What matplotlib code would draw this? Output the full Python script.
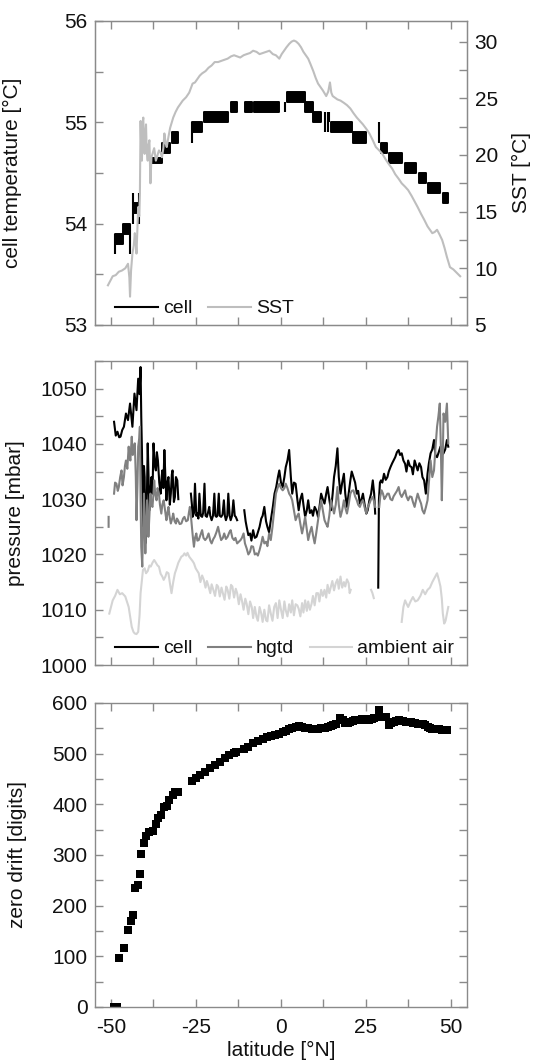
import numpy as np
import matplotlib
matplotlib.use('Agg')
import matplotlib.pyplot as plt
from matplotlib.lines import Line2D
from matplotlib.ticker import MultipleLocator

plt.rcParams['font.family'] = ['Liberation Sans', 'DejaVu Sans']
plt.rcParams['axes.unicode_minus'] = False

# ---- top panel: cell temperature (quantised 0.1 degC, flickers between two levels) ----
cell_t_lat0 = [-48.8, -46.6, -43.5, -38.3, -35.0, -32.1, -26.2, -22.5, -14.8, -10.5, -8.0,
               1.9, 7.1, 9.5, 14.7, 21.3, 29.4, 31.7, 36.5, 40.7, 43.1, 47.6]
cell_t_lat1 = [-46.6, -44.4, -41.7, -35.0, -32.6, -30.3, -23.2, -15.7, -12.9, -8.6, -0.5,
               7.1, 9.5, 11.8, 20.8, 25.1, 31.3, 35.5, 39.8, 42.6, 46.9, 49.2]
cell_t_lo = [53.8, 53.9, 54.1, 54.6, 54.7, 54.8, 54.9, 55.0, 55.1, 55.1, 55.1,
             55.2, 55.1, 55.0, 54.9, 54.8, 54.7, 54.6, 54.5, 54.4, 54.3, 54.2]
cell_t_hi = [53.9, 54.0, 54.2, 54.65, 54.8, 54.9, 55.0, 55.1, 55.2, 55.2, 55.2,
             55.3, 55.2, 55.1, 55.0, 54.9, 54.8, 54.7, 54.6, 54.5, 54.4, 54.3]
# single excursions of the cell temperature
spk_lat = [-48.8, -44.4, -43.5, -41.7, -26.2, 1.2, 12.8, 13.7, 14.2, 28.7]
spk_lo = [53.7, 53.7, 54.0, 54.0, 54.8, 55.1, 54.9, 54.9, 55.0, 54.8]
spk_hi = [53.9, 54.0, 54.3, 54.3, 55.0, 55.2, 55.1, 55.1, 55.1, 55.0]

sst_lat = [-50.9, -50.2, -49.5, -48.6, -47.7, -46.8, -45.8, -45.0, -44.6, -44.4,
           -44.1, -43.7, -43.3, -43.0, -42.7, -42.5, -42.2, -42.0, -41.7, -41.5,
           -41.3, -41.1, -40.9, -40.7, -40.5, -40.3, -40.1, -39.9, -39.7, -39.5,
           -39.2, -39.0, -38.7, -38.4, -38.1, -37.8, -37.3, -36.8, -36.3, -35.9,
           -35.4, -35.0, -34.6, -34.3, -33.9, -33.6, -33.1, -32.6, -32.1, -31.7,
           -31.0, -30.3, -29.6, -28.9, -27.9, -27.0, -26.0, -25.3, -24.6, -23.9,
           -23.2, -22.2, -21.3, -20.4, -19.5, -18.5, -17.6, -16.6, -15.7, -14.7,
           -13.8, -12.9, -12.0, -11.0, -10.1, -9.1, -8.2, -7.2, -6.3, -5.3,
           -4.4, -3.4, -2.4, -1.5, -0.5, 0.2, 0.9, 1.6, 2.4, 3.1,
           3.8, 4.5, 5.2, 5.9, 6.6, 7.3, 8.0, 8.7, 9.5, 10.2,
           10.9, 11.6, 12.3, 13.3, 13.9, 14.4, 14.8, 15.2, 16.6, 17.5,
           18.5, 19.4, 20.4, 21.3, 22.3, 23.2, 24.1, 25.1, 26.0, 27.0,
           27.9, 28.9, 29.8, 30.8, 31.7, 32.7, 33.6, 34.6, 35.5, 36.5,
           37.4, 38.4, 39.3, 40.2, 41.2, 42.1, 43.1, 43.8, 44.5, 45.2,
           45.9, 46.6, 47.4, 48.1, 48.8, 49.7, 50.7, 51.7, 52.7]
sst_val = [8.5, 8.9, 9.3, 9.4, 9.7, 9.8, 10.0, 10.4, 9.2, 7.5,
           9.8, 11.3, 12.0, 13.1, 12.2, 11.3, 13.8, 15.4, 14.6, 16.6,
           23.0, 20.5, 19.5, 22.8, 23.3, 20.6, 20.1, 22.0, 22.7, 20.4,
           19.5, 20.8, 21.3, 17.5, 19.8, 20.1, 20.6, 19.5, 20.0, 20.4,
           20.2, 19.8, 20.6, 21.9, 21.0, 20.7, 21.6, 22.4, 22.9, 23.3,
           23.8, 24.2, 24.5, 24.8, 25.1, 25.5, 26.3, 26.4, 26.7, 27.0,
           27.2, 27.4, 27.7, 27.9, 28.2, 28.2, 28.3, 28.4, 28.5, 28.7,
           28.8, 28.7, 28.6, 28.8, 28.9, 29.0, 29.2, 29.1, 28.9, 29.0,
           29.1, 29.2, 28.9, 28.8, 28.5, 28.9, 29.2, 29.5, 29.8, 30.0,
           30.1, 30.0, 29.8, 29.5, 29.1, 28.8, 28.5, 28.0, 27.4, 26.8,
           26.3, 26.0, 25.7, 25.2, 25.6, 26.4, 25.5, 25.2, 24.9, 24.8,
           24.6, 24.4, 24.1, 23.7, 23.3, 23.0, 22.7, 22.3, 21.9, 21.3,
           20.7, 20.4, 20.1, 19.6, 19.2, 18.8, 18.3, 17.9, 17.5, 17.2,
           16.9, 16.4, 15.9, 15.4, 14.8, 14.3, 13.7, 13.4, 13.1, 13.2,
           13.4, 13.0, 12.5, 11.8, 11.0, 10.1, 9.9, 9.6, 9.3]

# ---- middle panel: pressures ----
pc_lat = [-49.1, -48.6, -48.1, -47.6, -47.2, -46.7, -46.2, -45.6, -45.0, -44.4,
          -44.0, -43.7, -43.1, -42.5, -42.0, -41.6, -41.3, -41.1, -40.9, -40.7,
          -40.5, -40.3, -40.1, -39.9, -39.7, -39.4, -39.2, -38.9, -38.7, -38.4,
          -38.1, -37.8, -37.5, -37.1, -36.8, -36.5, -36.2, -35.8, -35.4, -35.1,
          -34.9, -34.6, -34.3, -34.0, -33.7, -33.4, -33.1, -32.7, -32.4, -32.1,
          -31.9, -31.5, -31.2, -30.9, -30.5, -30.2, -28.0, -26.5, -26.2, -26.0,
          -25.6, -25.3, -24.9, -24.6, -24.3, -24.0, -23.6, -23.2, -22.9, -22.5,
          -22.2, -21.8, -21.5, -21.1, -20.8, -20.4, -20.0, -19.6, -19.3, -19.0,
          -18.7, -18.3, -18.0, -17.6, -17.2, -16.8, -16.5, -16.2, -15.8, -15.5,
          -15.1, -14.8, -14.4, -14.0, -13.6, -13.3, -12.9, -11.9, -10.8, -10.4,
          -10.1, -9.6, -9.1, -8.7, -8.2, -7.7, -7.2, -6.8, -6.3, -5.8,
          -5.4, -4.9, -4.4, -4.0, -3.5, -3.0, -2.4, -1.9, -1.4, -0.9,
          -0.5, 0.0, 0.5, 1.0, 1.4, 1.9, 2.4, 2.9, 3.3, 3.8,
          4.3, 4.8, 5.2, 5.7, 6.2, 6.6, 7.1, 7.6, 8.0, 8.5,
          9.0, 9.4, 9.9, 10.4, 10.9, 11.3, 11.8, 12.3, 12.8, 13.3,
          13.7, 14.2, 14.7, 15.2, 15.6, 16.1, 16.6, 17.0, 17.5, 18.0,
          18.5, 18.9, 19.4, 19.9, 20.4, 20.8, 21.3, 21.8, 22.3, 22.7,
          23.2, 23.7, 24.1, 24.6, 25.1, 25.5, 26.0, 26.5, 27.0, 27.4,
          27.7, 28.1, 28.6, 28.8, 29.1, 29.4, 29.8, 30.3, 30.8, 31.3,
          31.7, 32.2, 32.7, 33.1, 33.6, 34.1, 34.6, 35.0, 35.5, 36.0,
          36.5, 36.9, 37.4, 37.9, 38.4, 38.8, 39.3, 39.8, 40.2, 40.7,
          41.2, 41.6, 42.1, 42.6, 43.1, 43.5, 44.0, 44.5, 45.0, 45.4,
          45.9, 46.4, 46.9, 47.3, 47.8, 48.3, 48.8, 49.2]
pc_val = [1044.0, 1041.5, 1042.2, 1041.2, 1041.3, 1042.5, 1043.1, 1045.5, 1044.3, 1047.3,
          1045.0, 1043.1, 1049.1, 1046.1, 1051.8, 1049.0, 1053.9, 1045.0, 1038.9, 1030.0,
          1025.0, 1036.0, 1034.0, 1022.0, 1025.6, 1032.0, 1040.1, 1033.0, 1028.0, 1031.0,
          1034.0, 1031.0, 1040.1, 1036.0, 1035.2, 1038.5, 1037.0, 1033.0, 1031.0, 1034.0,
          1035.2, 1032.0, 1038.9, 1034.0, 1029.8, 1033.0, 1034.0, 1029.0, 1031.0, 1034.5,
          1035.2, 1029.5, 1030.4, 1034.0, 1033.4, 1030.0, np.nan, 1031.0, 1029.0, 1026.8,
          1027.5, 1032.8, 1027.0, 1027.4, 1026.5, 1031.0, 1027.0, 1026.8, 1027.5, 1032.8,
          1027.0, 1026.8, 1027.5, 1028.6, 1027.0, 1026.2, 1027.0, 1031.0, 1027.0, 1026.8,
          1027.0, 1031.0, 1027.0, 1026.8, 1027.2, 1029.8, 1027.0, 1026.2, 1027.0, 1031.0,
          1027.0, 1026.2, 1027.0, 1029.8, 1027.0, 1026.8, 1026.2, np.nan, 1028.0, 1026.0,
          1025.0, 1023.5, 1023.8, 1022.5, 1024.4, 1023.0, 1023.2, 1024.0, 1025.0, 1026.5,
          1027.0, 1028.6, 1026.0, 1025.0, 1024.0, 1026.2, 1028.6, 1031.0, 1032.2, 1034.0,
          1035.2, 1033.0, 1032.2, 1034.0, 1035.8, 1037.0, 1038.9, 1034.0, 1031.0, 1033.0,
          1032.8, 1030.0, 1028.0, 1030.0, 1031.0, 1029.0, 1026.8, 1028.0, 1029.8, 1027.5,
          1028.0, 1027.0, 1028.6, 1028.0, 1026.8, 1028.5, 1031.0, 1030.0, 1029.2, 1031.0,
          1032.2, 1030.0, 1028.0, 1031.0, 1034.0, 1036.0, 1039.2, 1034.0, 1031.0, 1033.0,
          1034.6, 1031.0, 1028.6, 1031.0, 1033.4, 1035.0, 1034.0, 1033.0, 1031.0, 1031.5,
          1029.2, 1030.0, 1031.0, 1029.0, 1027.4, 1028.0, 1029.8, 1031.0, 1033.4, 1031.0,
          1027.4, np.nan, 1014.0, 1029.8, 1033.0, 1033.4, 1033.0, 1034.6, 1033.5, 1034.0,
          1035.0, 1035.8, 1036.5, 1037.0, 1037.6, 1038.5, 1038.9, 1038.0, 1038.3, 1037.0,
          1036.4, 1035.0, 1037.0, 1036.0, 1035.8, 1034.5, 1037.0, 1036.0, 1035.2, 1036.5,
          1035.8, 1034.0, 1033.4, 1031.0, 1034.6, 1036.5, 1038.3, 1039.0, 1040.7, 1038.0,
          1037.6, 1038.5, 1039.5, 1038.0, 1038.3, 1039.0, 1040.7, 1039.5]

ph_lat = [-50.7, -50.7, -50.0, -49.1, -48.8, -48.4, -48.0, -47.7, -47.3, -46.9,
          -46.6, -46.2, -45.9, -45.6, -45.2, -44.8, -44.6, -44.3, -43.9, -43.6,
          -43.4, -43.0, -42.7, -42.5, -42.2, -42.0, -41.7, -41.5, -41.3, -41.1,
          -40.9, -40.8, -40.6, -40.3, -40.1, -39.9, -39.7, -39.4, -39.2, -39.0,
          -38.7, -38.4, -38.1, -37.8, -37.5, -37.3, -37.0, -36.6, -36.3, -35.9,
          -35.6, -35.2, -34.9, -34.5, -34.1, -33.7, -33.4, -33.1, -32.8, -32.4,
          -32.0, -31.7, -31.3, -30.9, -30.6, -30.3, -29.8, -29.3, -28.8, -28.4,
          -27.9, -27.4, -27.1, -26.8, -26.5, -26.2, -25.9, -25.6, -25.3, -24.9,
          -24.6, -24.2, -23.7, -23.2, -22.8, -22.3, -21.8, -21.3, -20.8, -20.4,
          -19.9, -19.5, -19.0, -18.5, -18.0, -17.6, -17.1, -16.7, -16.2, -15.7,
          -15.2, -14.8, -14.3, -13.8, -13.4, -12.9, -12.4, -11.9, -11.5, -11.0,
          -10.6, -10.1, -9.6, -9.1, -8.7, -8.2, -7.7, -7.2, -6.8, -6.3,
          -5.8, -5.4, -4.9, -4.4, -4.0, -3.5, -3.0, -2.5, -2.0, -1.5,
          -1.0, -0.5, 0.0, 0.5, 1.0, 1.4, 1.9, 2.4, 2.9, 3.3,
          3.8, 4.3, 4.8, 5.2, 5.7, 6.2, 6.6, 7.1, 7.6, 8.0,
          8.5, 9.0, 9.4, 9.9, 10.4, 10.9, 11.3, 11.8, 12.3, 12.8,
          13.3, 13.7, 14.2, 14.7, 15.2, 15.6, 16.1, 16.6, 17.0, 17.5,
          18.0, 18.5, 18.9, 19.4, 19.9, 20.4, 20.8, 21.3, 21.8, 22.3,
          22.7, 23.2, 23.7, 24.1, 24.6, 25.1, 25.5, 26.0, 26.5, 27.0,
          27.4, 27.7, 28.2, 28.9, 29.2, 29.6, 30.0, 30.4, 30.8, 31.3,
          31.7, 32.2, 32.7, 33.1, 33.6, 34.1, 34.6, 35.0, 35.5, 36.0,
          36.5, 36.9, 37.4, 37.9, 38.4, 38.8, 39.3, 39.8, 40.2, 40.7,
          41.2, 41.6, 42.1, 42.6, 43.1, 43.5, 44.0, 44.5, 45.0, 45.4,
          45.9, 46.3, 46.7, 47.0, 47.3, 47.6, 47.8, 48.3, 48.8, 49.2]
ph_val = [1025.0, 1026.8, np.nan, 1031.0, 1033.0, 1032.8, 1031.5, 1032.2, 1034.0, 1035.2,
          1032.5, 1034.0, 1036.0, 1037.0, 1035.5, 1039.5, 1038.0, 1037.0, 1041.3, 1038.0,
          1038.9, 1040.1, 1034.0, 1026.2, 1033.0, 1039.5, 1041.0, 1043.1, 1030.0, 1021.4,
          1019.0, 1017.8, 1024.0, 1031.0, 1025.0, 1020.2, 1024.0, 1029.8, 1027.0, 1023.2,
          1027.0, 1031.0, 1029.0, 1028.6, 1031.0, 1033.4, 1031.0, 1029.8, 1032.0, 1031.0,
          1029.0, 1027.4, 1029.0, 1029.8, 1028.0, 1026.2, 1027.5, 1028.6, 1027.0, 1025.6,
          1026.5, 1027.4, 1026.0, 1025.6, 1026.5, 1026.2, 1025.5, 1025.6, 1026.5, 1026.8,
          1026.0, 1026.2, 1027.5, 1028.6, 1027.0, 1025.0, 1023.0, 1021.4, 1023.0, 1023.8,
          1022.5, 1022.6, 1023.5, 1024.4, 1023.0, 1022.6, 1023.0, 1023.8, 1022.5, 1022.0,
          1022.8, 1023.2, 1024.0, 1025.0, 1023.5, 1022.6, 1023.0, 1023.8, 1022.8, 1023.2,
          1024.0, 1024.4, 1023.0, 1022.6, 1023.0, 1022.0, 1022.3, 1022.6, 1023.0, 1023.8,
          1022.0, 1021.1, 1020.0, 1020.5, 1021.5, 1021.4, 1020.0, 1020.2, 1019.8, 1020.8,
          1022.0, 1023.2, 1022.0, 1022.3, 1021.5, 1023.8, 1022.6, 1025.0, 1028.0, 1031.0,
          1032.0, 1032.8, 1032.0, 1031.6, 1032.0, 1032.8, 1032.0, 1031.0, 1030.5, 1029.8,
          1028.0, 1026.2, 1027.0, 1027.4, 1025.5, 1023.8, 1025.0, 1026.8, 1024.5, 1022.6,
          1024.0, 1025.0, 1023.5, 1022.0, 1024.0, 1026.2, 1028.0, 1029.8, 1028.0, 1026.2,
          1025.5, 1025.0, 1027.0, 1029.8, 1028.5, 1027.4, 1029.0, 1032.2, 1029.0, 1026.8,
          1028.0, 1029.8, 1028.5, 1027.4, 1029.0, 1031.0, 1031.5, 1031.6, 1030.5, 1029.8,
          1029.0, 1028.6, 1029.5, 1029.8, 1028.5, 1027.4, 1028.5, 1029.2, 1030.0, 1030.4,
          1029.5, 1028.6, np.nan, 1028.6, 1030.5, 1031.6, 1031.0, 1030.0, 1030.4, 1031.0,
          1031.0, 1030.0, 1029.8, 1030.5, 1031.0, 1031.5, 1032.2, 1031.0, 1030.4, 1031.0,
          1031.6, 1030.5, 1029.8, 1030.5, 1030.4, 1029.5, 1028.6, 1030.0, 1031.0, 1030.0,
          1029.2, 1028.0, 1027.4, 1028.5, 1029.8, 1033.0, 1037.0, 1034.0, 1035.2, 1039.0,
          1043.1, 1045.0, 1047.3, 1040.0, 1029.8, 1038.0, 1045.5, 1044.0, 1047.3, 1040.1]

pa_lat = [-50.5, -50.0, -49.5, -48.8, -48.1, -47.4, -46.7, -45.8, -44.8, -44.3,
          -43.9, -43.4, -43.0, -42.5, -42.0, -41.6, -41.3, -40.9, -40.6, -40.1,
          -39.7, -39.2, -38.7, -38.3, -37.8, -37.3, -36.8, -36.3, -35.9, -35.4,
          -34.9, -34.5, -34.0, -33.6, -33.1, -32.6, -32.2, -31.7, -31.2, -30.7,
          -30.2, -29.8, -29.3, -28.8, -28.4, -27.9, -27.5, -27.0, -26.5, -26.0,
          -25.6, -25.1, -24.6, -24.2, -23.7, -23.2, -22.7, -22.2, -21.8, -21.3,
          -20.8, -20.4, -19.9, -19.4, -18.9, -18.5, -18.0, -17.5, -17.1, -16.6,
          -16.1, -15.7, -15.2, -14.7, -14.3, -13.8, -13.3, -12.9, -12.4, -11.9,
          -11.5, -11.0, -10.5, -10.1, -9.6, -9.1, -8.6, -8.2, -7.7, -7.2,
          -6.8, -6.3, -5.8, -5.4, -4.9, -4.4, -4.0, -3.5, -3.0, -2.5,
          -2.0, -1.5, -1.0, -0.5, 0.0, 0.5, 1.0, 1.4, 1.9, 2.4,
          2.9, 3.3, 3.8, 4.3, 4.8, 5.2, 5.7, 6.2, 6.6, 7.1,
          7.6, 8.0, 8.5, 9.0, 9.4, 9.9, 10.4, 10.9, 11.3, 11.8,
          12.3, 12.8, 13.3, 13.7, 14.2, 14.7, 15.1, 15.6, 16.1, 16.6,
          17.0, 17.5, 18.0, 18.5, 18.9, 19.4, 19.9, 20.2, 20.5, 23.0,
          26.5, 26.9, 27.3, 31.0, 35.5, 36.0, 36.5, 37.0, 37.4, 38.1,
          38.8, 39.5, 40.2, 41.0, 41.7, 42.4, 43.1, 43.8, 44.5, 45.2,
          45.9, 46.4, 46.9, 47.3, 47.6, 48.0, 48.4, 48.8, 49.2]
pa_val = [1009.3, 1010.5, 1011.7, 1012.5, 1013.6, 1012.8, 1013.0, 1012.4, 1010.5, 1008.5,
          1006.9, 1006.0, 1005.7, 1005.6, 1006.0, 1009.0, 1013.0, 1015.5, 1017.2, 1017.5,
          1016.6, 1017.0, 1018.0, 1017.8, 1018.5, 1019.0, 1018.5, 1018.0, 1017.8, 1016.5,
          1016.0, 1015.4, 1016.0, 1016.8, 1016.6, 1014.5, 1013.0, 1015.0, 1016.6, 1017.5,
          1018.5, 1019.0, 1019.6, 1019.8, 1020.2, 1019.8, 1020.3, 1019.6, 1019.2, 1018.8,
          1018.4, 1017.5, 1017.0, 1016.6, 1015.0, 1016.2, 1015.4, 1014.0, 1015.2, 1014.2,
          1013.0, 1014.6, 1013.6, 1012.5, 1014.5, 1014.2, 1012.4, 1014.0, 1013.0, 1011.8,
          1014.2, 1013.6, 1012.0, 1014.5, 1014.2, 1012.2, 1013.8, 1013.0, 1011.0, 1012.8,
          1011.7, 1010.0, 1012.0, 1011.1, 1009.2, 1011.5, 1010.5, 1008.5, 1010.5, 1008.7,
          1008.0, 1010.5, 1009.3, 1007.8, 1010.0, 1008.1, 1007.9, 1010.8, 1009.3, 1008.0,
          1010.5, 1011.2, 1008.5, 1011.7, 1010.0, 1008.5, 1011.5, 1009.9, 1008.8, 1011.0,
          1009.5, 1011.7, 1009.0, 1011.0, 1010.8, 1010.2, 1008.8, 1011.2, 1009.5, 1011.7,
          1009.8, 1011.5, 1010.0, 1011.1, 1012.5, 1010.8, 1013.0, 1013.0, 1011.5, 1013.6,
          1012.5, 1013.6, 1012.2, 1014.5, 1013.0, 1014.2, 1015.2, 1013.5, 1014.8, 1015.5,
          1013.8, 1016.0, 1014.0, 1015.0, 1014.2, 1015.5, 1014.8, 1013.0, 1013.6, np.nan,
          1013.6, 1013.0, 1012.1, np.nan, 1007.8, 1010.5, 1011.7, 1011.0, 1010.5, 1011.5,
          1012.3, 1011.5, 1011.7, 1012.5, 1013.6, 1012.8, 1013.6, 1014.0, 1015.0, 1015.8,
          1016.6, 1015.5, 1014.2, 1012.0, 1009.3, 1007.5, 1008.0, 1009.3, 1010.5]

# ---- bottom panel: zero drift ----
zd_lat = [-49.0, -48.3, -47.5, -46.2, -45.1, -44.2, -43.6, -43.0, -42.0, -41.5,
          -41.1, -40.3, -39.7, -38.7, -37.6, -36.8, -36.1, -35.2, -34.5, -33.6,
          -32.8, -31.9, -31.2, -30.3, -26.2, -25.1, -23.7, -22.3, -20.9, -19.5,
          -18.0, -16.6, -15.2, -13.8, -13.1, -11.0, -9.6, -8.2, -6.8, -5.4,
          -4.0, -3.0, -1.8, -0.5, 0.5, 1.4, 2.4, 3.3, 4.3, 5.2,
          6.2, 7.1, 8.0, 9.0, 10.0, 10.9, 11.8, 12.8, 13.8, 14.7,
          15.4, 16.1, 17.5, 18.2, 18.9, 19.6, 20.4, 21.1, 21.8, 22.5,
          23.2, 23.9, 24.6, 25.3, 26.0, 26.8, 27.5, 28.9, 29.4, 30.1,
          30.8, 31.7, 32.4, 33.1, 33.8, 34.6, 35.3, 36.0, 36.7, 37.4,
          38.1, 38.8, 39.5, 40.2, 41.0, 41.7, 42.4, 43.1, 43.8, 44.5,
          45.2, 45.9, 46.6, 47.3, 48.0, 48.8]
zd_val = [0, 0, 97, 116, 152, 170, 182, 234, 241, 262,
          302, 323, 337, 346, 347, 362, 372, 379, 394, 397,
          409, 418, 425, 425, 445, 451, 458, 464, 471, 478,
          484, 491, 497, 501, 503, 509, 514, 520, 524, 528,
          532, 535, 537, 539, 542, 545, 548, 551, 552, 554,
          552, 551, 550, 549, 549, 549, 550, 551, 553, 554,
          556, 558, 571, 566, 561, 561, 562, 564, 566, 566,
          567, 568, 568, 567, 567, 569, 571, 586, 572, 572,
          572, 556, 560, 563, 565, 566, 565, 564, 563, 562,
          562, 561, 560, 559, 559, 558, 556, 553, 551, 549,
          549, 549, 548, 547, 547, 546]

frame_c = '#8a8a8a'
text_c = '#111111'
sst_c = '#bebebe'
hgtd_c = '#808080'
amb_c = '#d4d4d4'
lw = 1.5
fs_tick = 15
fs_lab = 15


def style(ax, right=True):
    for s in ax.spines.values():
        s.set_color(frame_c)
        s.set_linewidth(1.0)
    ax.set_xlim(-54.7, 54.7)
    ax.xaxis.set_major_locator(MultipleLocator(25))
    ax.xaxis.set_minor_locator(MultipleLocator(12.5))
    ax.tick_params(which='both', direction='in', top=True, right=right,
                   color=frame_c, length=6, width=1.0,
                   labelsize=fs_tick, labelcolor=text_c, pad=5.5)
    ax.tick_params(axis='x', which='both', pad=8)


fig = plt.figure(figsize=(5.47, 10.62), dpi=100)
ax1 = fig.add_axes([0.1737, 0.694, 0.68, 0.2863])
ax2 = fig.add_axes([0.1737, 0.3738, 0.68, 0.2863])
ax3 = fig.add_axes([0.1737, 0.0518, 0.68, 0.2863])

# top
style(ax1, right=False)
for x0, x1, lo, hi in zip(cell_t_lat0, cell_t_lat1, cell_t_lo, cell_t_hi):
    ax1.fill_between([x0, x1], lo, hi, facecolor='k', edgecolor='k', linewidth=1.4)
ax1.vlines(spk_lat, spk_lo, spk_hi, color='k', lw=lw)
ax1.set_ylim(53, 56)
ax1.yaxis.set_major_locator(MultipleLocator(1))
ax1.yaxis.set_minor_locator(MultipleLocator(0.5))
ax1.tick_params(labelbottom=False)
ax1.set_ylabel('cell temperature [°C]', fontsize=fs_lab, color=text_c)
ax1.yaxis.set_label_coords(-0.196, 0.5)

ax1t = ax1.twinx()
ax1t.plot(sst_lat, sst_val, color=sst_c, lw=lw)
ax1t.set_ylim(5, 31.83)
for s in ax1t.spines.values():
    s.set_color(frame_c)
ax1t.yaxis.set_major_locator(MultipleLocator(5))
ax1t.yaxis.set_minor_locator(MultipleLocator(2.5))
ax1t.tick_params(which='both', direction='in', color=frame_c, length=6, width=1.0,
                 labelsize=fs_tick, labelcolor=text_c, pad=5.5)
ax1t.set_ylabel('SST [°C]', fontsize=fs_lab, color=text_c)
ax1t.yaxis.set_label_coords(1.121, 0.5)
h1 = [Line2D([], [], color='k', lw=lw), Line2D([], [], color=sst_c, lw=lw)]
ax1t.legend(h1, ['cell', 'SST'], ncol=2, loc='lower left', bbox_to_anchor=(0.054, 0.025),
            frameon=False, fontsize=14, handlelength=2.2, handletextpad=0.26,
            columnspacing=0.8, borderpad=0, borderaxespad=0, labelcolor=text_c)

# middle
style(ax2)
ax2.plot(pc_lat, pc_val, color='k', lw=lw, label='cell')
ax2.plot(ph_lat, ph_val, color=hgtd_c, lw=lw, label='hgtd')
ax2.plot(pa_lat, pa_val, color=amb_c, lw=lw, label='ambient air')
ax2.set_ylim(1000, 1055)
ax2.yaxis.set_major_locator(MultipleLocator(10))
ax2.yaxis.set_minor_locator(MultipleLocator(5))
ax2.tick_params(labelbottom=False)
ax2.set_ylabel('pressure [mbar]', fontsize=fs_lab, color=text_c)
ax2.yaxis.set_label_coords(-0.188, 0.5)
ax2.legend(ncol=3, loc='lower left', bbox_to_anchor=(0.054, 0.025),
           frameon=False, fontsize=14, handlelength=2.2, handletextpad=0.26,
           columnspacing=0.8, borderpad=0, borderaxespad=0, labelcolor=text_c)

# bottom
style(ax3)
ax3.plot(zd_lat, zd_val, 's', color='k', ms=5.5, mew=0)
ax3.set_ylim(0, 600)
ax3.yaxis.set_major_locator(MultipleLocator(100))
ax3.yaxis.set_minor_locator(MultipleLocator(50))
ax3.set_ylabel('zero drift [digits]', fontsize=fs_lab, color=text_c)
ax3.yaxis.set_label_coords(-0.183, 0.5)
ax3.set_xlabel('latitude [°N]', fontsize=fs_lab, color=text_c, labelpad=3)

fig.savefig('out.png', dpi=100)
